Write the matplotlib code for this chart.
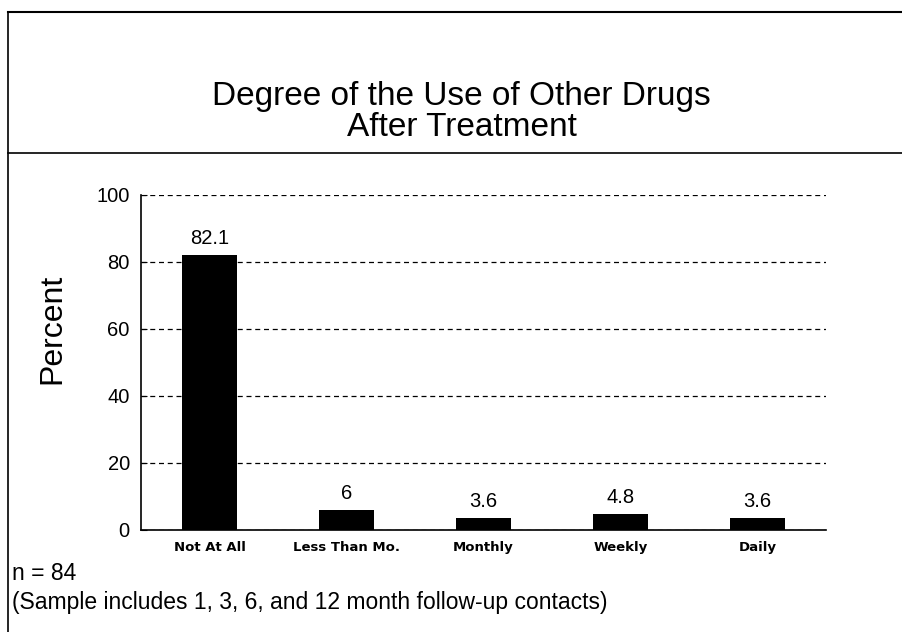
import matplotlib.pyplot as plt
from matplotlib.lines import Line2D

plt.rcParams['font.family'] = ['Liberation Sans', 'DejaVu Sans']

categories = ['Not At All', 'Less Than Mo.', 'Monthly', 'Weekly', 'Daily']
percent = [82.1, 6, 3.6, 4.8, 3.6]
yticks = [0, 20, 40, 60, 80, 100]

fig = plt.figure(figsize=(9.02, 6.32), dpi=100)
ax = fig.add_axes([0.1563, 0.1614, 0.7594, 0.5301])

x = range(len(categories))
bars = ax.bar(x, percent, width=0.4, color='black', zorder=3)
for b, v in zip(bars, percent):
    ax.annotate(f'{v:g}', (b.get_x() + b.get_width() / 2, v),
                xytext=(0, 5), textcoords='offset points',
                ha='center', va='bottom', fontsize=14.5)

ax.set_xlim(-0.5, len(categories) - 0.5)
ax.set_ylim(0, 100)
ax.set_yticks(yticks)
ax.set_xticks(list(x))
ax.set_xticklabels(categories, fontsize=9.5, fontweight='bold',
                   family='DejaVu Sans')
ax.tick_params(axis='x', length=0, pad=8)
ax.tick_params(axis='y', direction='in', length=4, labelsize=14.5, pad=8)
ax.yaxis.grid(True, color='black', linestyle=(0, (4, 3)), linewidth=0.9)
ax.set_axisbelow(True)
for s in ['top', 'right']:
    ax.spines[s].set_visible(False)
ax.spines['left'].set_linewidth(1.2)
ax.spines['bottom'].set_linewidth(1.2)
ax.set_ylabel('Percent', fontsize=23)
ax.yaxis.set_label_coords(-0.108, 0.6)

# title block and frame lines
fig.text(0.512, 0.822, 'Degree of the Use of Other Drugs\nAfter Treatment',
         ha='center', va='center', fontsize=24, linespacing=1.0)
fig.add_artist(Line2D([0.009, 1.0], [0.981, 0.981], color='black', lw=1.5))
fig.add_artist(Line2D([0.009, 0.009], [0.0, 0.981], color='black', lw=1.2))
fig.add_artist(Line2D([0.009, 1.0], [0.758, 0.758], color='black', lw=1.2))

fig.text(0.013, 0.092, 'n = 84', fontsize=16.5, va='center')
fig.text(0.013, 0.047, '(Sample includes 1, 3, 6, and 12 month follow-up contacts)',
         fontsize=16.5, va='center')

fig.savefig('out.png', dpi=100)
